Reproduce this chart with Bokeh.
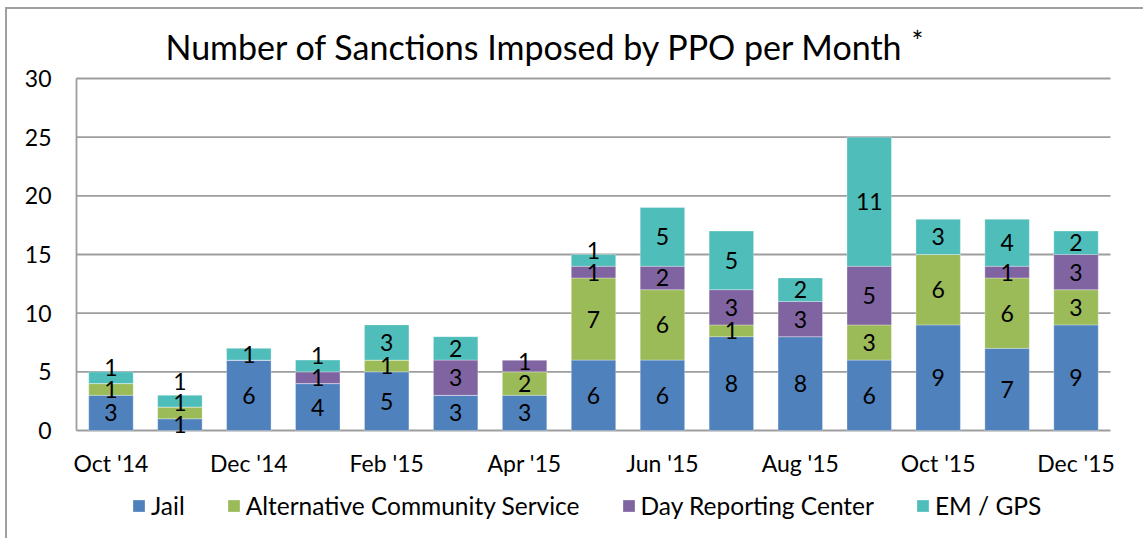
from bokeh.plotting import figure
from bokeh.models import (ColumnDataSource, Range1d, FixedTicker, Legend, LegendItem, Label)
from bokeh.core.properties import value
from bokeh.embed import file_html
from bokeh.resources import INLINE

# ---- data ----
months = ["Oct '14", "Nov '14", "Dec '14", "Jan '15", "Feb '15", "Mar '15", "Apr '15",
          "May '15", "Jun '15", "Jul '15", "Aug '15", "Sep '15", "Oct '15", "Nov '15", "Dec '15"]
jail = [3, 1, 6, 4, 5, 3, 3, 6, 6, 8, 8, 6, 9, 7, 9]
alt_comm_service = [1, 1, 0, 0, 1, 0, 2, 7, 6, 1, 0, 3, 6, 6, 3]
day_reporting = [0, 0, 0, 1, 0, 3, 1, 1, 2, 3, 3, 5, 0, 1, 3]
em_gps = [1, 1, 1, 1, 3, 2, 0, 1, 5, 5, 2, 11, 3, 4, 2]
series_names = ["Jail", "Alternative Community Service", "Day Reporting Center", "EM / GPS"]
shown_ticks = [0, 2, 4, 6, 8, 10, 12, 14]
y_ticks = [0, 5, 10, 15, 20, 25, 30]

colors = ["#4F81BD", "#9BBB59", "#8064A2", "#4FBDBA"]
FONT = "Lato"
GRID = "#9D9D9D"

# layout geometry (pixels on the canvas)
W, H = 1138, 531
PLOT_L, PLOT_R = 69, 1103              # canvas x of the value area's left/right edges
PAD_L, PAD_R = 10, 15                  # extra room so edge category labels are not cut
VAL_TOP, VAL_BOTTOM = 69, 421          # canvas y of value 30 and value 0
n = len(months)
x_lo_val, x_hi_val = -0.5, n - 0.5
px_per_cat = (PLOT_R - PLOT_L) / n
px_per_unit = (VAL_BOTTOM - VAL_TOP) / y_ticks[-1]
y_lo = -(H - VAL_BOTTOM) / px_per_unit
y_hi = y_ticks[-1] + VAL_TOP / px_per_unit

xs = list(range(n))
keys = ["jail", "acs", "drc", "em"]
src = ColumnDataSource(dict(x=xs, jail=jail, acs=alt_comm_service, drc=day_reporting, em=em_gps))

p = figure(width=W, height=H, output_backend="svg", toolbar_location=None,
           x_range=Range1d(x_lo_val - PAD_L / px_per_cat, x_hi_val + PAD_R / px_per_cat),
           y_range=Range1d(y_lo, y_hi),
           min_border_left=PLOT_L - PAD_L, min_border_right=W - PLOT_R - PAD_R,
           min_border_top=0, min_border_bottom=0)
p.styles = {"border-top": "2px solid #A0A0A0", "border-left": "2px solid #A0A0A0",
            "margin-left": "5px", "margin-top": "7px"}
p.outline_line_color = None

# horizontal gridlines over the value area only
p.xgrid.grid_line_color = None
p.ygrid.grid_line_color = None
p.segment(x0=[x_lo_val] * len(y_ticks), x1=[x_hi_val] * len(y_ticks), y0=y_ticks, y1=y_ticks,
          line_color=GRID, line_width=1.8)
p.segment(x0=[x_lo_val], x1=[x_lo_val], y0=[y_ticks[0]], y1=[y_ticks[-1]],
          line_color=GRID, line_width=1.8)

renderers = p.vbar_stack(keys, x="x", width=0.645, color=colors, source=src,
                         line_color="white", line_width=0.6, line_alpha=0.5)

# data labels with simple upward collision avoidance
lx, ly, lt = [], [], []
gap = 1.85
for i in xs:
    base = 0
    prev = -1e9
    for vals in (jail, alt_comm_service, day_reporting, em_gps):
        v = vals[i]
        if v > 0:
            c = base + v / 2
            y = max(c, prev + gap)
            lx.append(i); ly.append(y); lt.append(str(v))
            prev = y
        base += v
p.text(x=lx, y=ly, text=lt, text_align="center", text_baseline="middle",
       text_font=value(FONT), text_font_size="23px", text_color="black")

# x axis category labels (every other month), floated below the zero line
p.xaxis.visible = False
p.text(x=shown_ticks, y=[y_ticks[0]] * len(shown_ticks), text=[months[i] for i in shown_ticks],
       y_offset=32, text_align="center", text_baseline="middle",
       text_font=value(FONT), text_font_size="23px", text_color="black")

# y axis
yax = p.yaxis[0]
yax.ticker = FixedTicker(ticks=y_ticks)
yax.axis_line_color = None
yax.major_tick_out = 0
yax.major_tick_in = 0
yax.minor_tick_out = 0
yax.minor_tick_in = 0
yax.major_label_text_font = FONT
yax.major_label_text_font_size = "23px"
yax.major_label_text_color = "black"
yax.major_label_standoff = 25 - PAD_L

# title
p.add_layout(Label(x=89 + PAD_L, y=H - 37, x_units="screen", y_units="screen",
                   text="Number of Sanctions Imposed by PPO per Month",
                   text_font=FONT, text_font_size="34px", text_color="black",
                   text_baseline="alphabetic", text_align="left"))
p.add_layout(Label(x=835 + PAD_L, y=H - 14, x_units="screen", y_units="screen", text="*",
                   text_font=FONT, text_font_size="28px", text_color="black",
                   text_baseline="top", text_align="left"))

legend = Legend(items=[LegendItem(label=nm, renderers=[r]) for nm, r in zip(series_names, renderers)],
                orientation="horizontal", location=(55 + PAD_L, 20), margin=0, padding=0,
                spacing=41, glyph_width=15, glyph_height=15, label_standoff=5,
                label_text_font=FONT, label_text_font_size="24.5px", label_text_color="black",
                border_line_color=None, background_fill_alpha=0)
p.add_layout(legend, "center")

open("out.html", "w").write(file_html(p, INLINE))
